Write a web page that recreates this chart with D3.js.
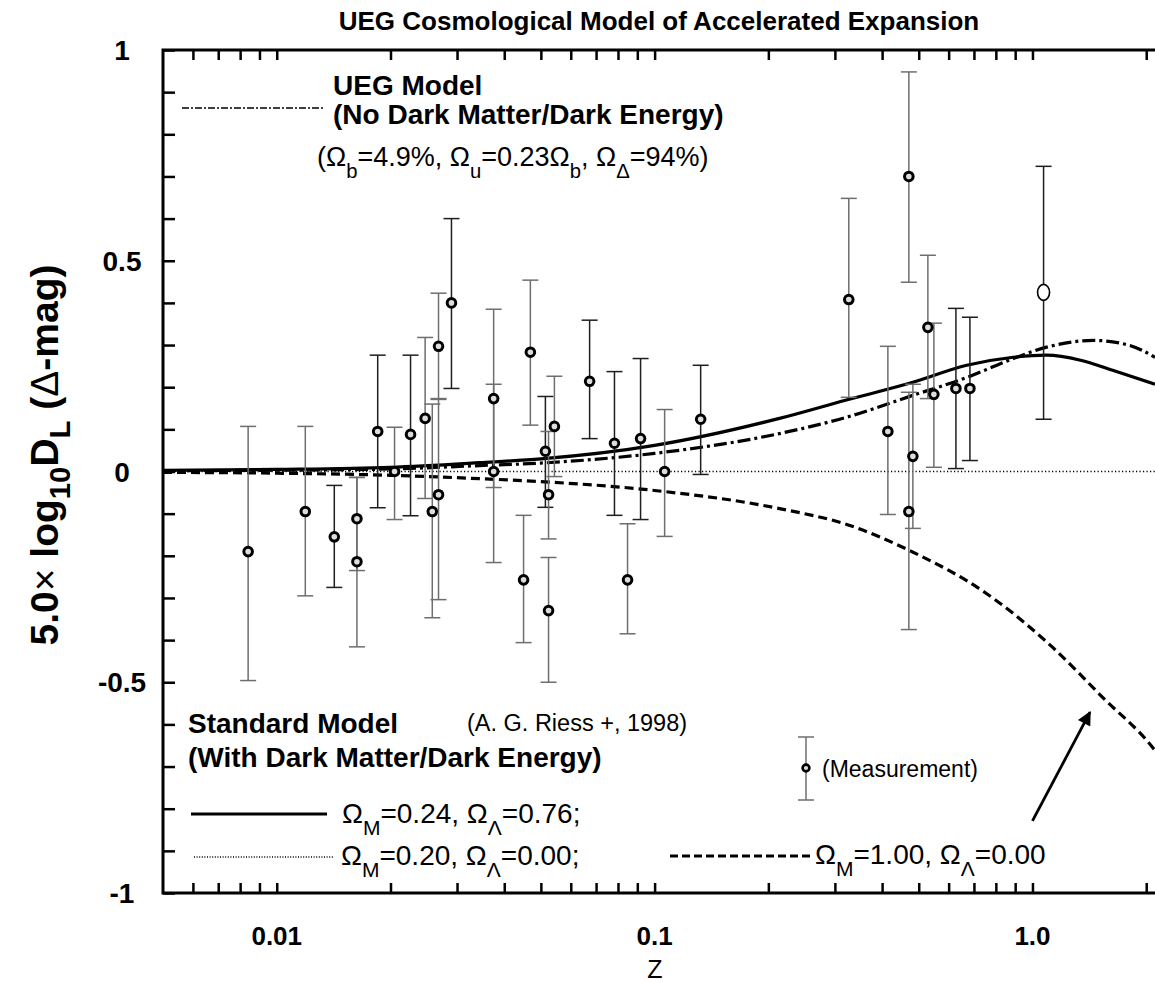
<!DOCTYPE html>
<html>
<head>
<meta charset="utf-8">
<title>UEG Cosmological Model of Accelerated Expansion</title>
<script src="https://cdn.jsdelivr.net/npm/d3@7"></script>
<style>
  body { margin: 0; background: #fff; }
  text { font-family: "Liberation Sans", Arial, sans-serif; fill: #000; }
</style>
</head>
<body>
<svg width="1155" height="983"></svg>
<script>
const redshift = [0.0084, 0.0119, 0.0142, 0.0163, 0.0163, 0.0185, 0.0205, 0.0226, 0.0247, 0.0258,
  0.0268, 0.0268, 0.029, 0.0375, 0.0375, 0.045, 0.0469, 0.0514, 0.0524, 0.0524,
  0.0543, 0.0673, 0.0783, 0.0848, 0.0918, 0.1063, 0.1324, 0.3265, 0.4143, 0.4708,
  0.4708, 0.4825, 0.5287, 0.5484, 0.6272, 0.6831];
const deltaMag = [-0.19, -0.095, -0.155, -0.112, -0.214, 0.095, 0.0, 0.088, 0.126, -0.095,
  -0.055, 0.297, 0.40, 0.173, 0.0, -0.257, 0.283, 0.048, -0.055, -0.33,
  0.107, 0.214, 0.067, -0.257, 0.078, 0.0, 0.124, 0.408, 0.095, 0.70,
  -0.095, 0.036, 0.342, 0.183, 0.197, 0.197];
const errLow = [-0.496, -0.295, -0.275, -0.235, -0.416, -0.086, -0.114, -0.105, -0.064, -0.347,
  -0.304, 0.171, 0.197, -0.038, -0.216, -0.406, 0.11, -0.085, -0.16, -0.50,
  -0.012, 0.078, -0.104, -0.385, -0.114, -0.154, -0.007, 0.176, -0.102, 0.449,
  -0.375, -0.135, 0.173, 0.01, 0.007, 0.026];
const errHigh = [0.107, 0.107, -0.033, -0.014, -0.014, 0.276, 0.105, 0.276, 0.318, 0.16,
  0.173, 0.423, 0.60, 0.385, 0.207, -0.104, 0.454, 0.178, 0.095, -0.204,
  0.226, 0.359, 0.237, -0.124, 0.268, 0.147, 0.252, 0.648, 0.297, 0.948,
  0.188, 0.207, 0.513, 0.352, 0.387, 0.366];
// two sets of bars in the picture: 1 = grey, 2 = dark
const fitSet = [1, 1, 2, 1, 1, 2, 1, 2, 1, 1,
  1, 1, 2, 1, 1, 1, 1, 2, 1, 1,
  1, 2, 2, 1, 2, 1, 2, 1, 1, 1,
  1, 1, 1, 1, 2, 2];

// the open "O" point near z = 1
const openZ = [1.07];
const openMag = [0.425];
const openLow = [0.124];
const openHigh = [0.724];

// model curves
const lcdmZ = [0.005, 0.01, 0.02, 0.0344, 0.05, 0.1, 0.214, 0.32, 0.48, 0.67, 0.89, 1.09, 1.34, 1.63, 2.11];
const lcdmMag = [0.003, 0.005, 0.01, 0.021, 0.03, 0.062, 0.126, 0.169, 0.211, 0.252, 0.271, 0.276, 0.264, 0.24, 0.207];

const uegZ = [0.005, 0.01, 0.02, 0.0344, 0.05, 0.1, 0.214, 0.32, 0.48, 0.67, 0.89, 1.09, 1.45, 1.81, 2.11];
const uegMag = [0.002, 0.003, 0.006, 0.014, 0.02, 0.043, 0.09, 0.128, 0.18, 0.223, 0.268, 0.295, 0.311, 0.299, 0.271];

const matterZ = [0.005, 0.01, 0.02, 0.0344, 0.05, 0.1, 0.214, 0.3285, 0.474, 0.757, 1.133, 1.538, 2.085, 2.11];
const matterMag = [-0.002, -0.004, -0.009, -0.017, -0.024, -0.045, -0.088, -0.128, -0.188, -0.29, -0.418, -0.537, -0.656, -0.662];

const emptyZ = [0.005, 2.11];
const emptyMag = [0, 0];

// axis ticks
const yTicks = d3.range(-10, 11).map(d => d / 10);
const yLabels = [-1, -0.5, 0, 0.5, 1];
const yLabelText = ["-1", "-0.5", "0", "0.5", "1"];
const xTicks = [0.006, 0.007, 0.008, 0.009, 0.01, 0.02, 0.03, 0.04, 0.05, 0.06, 0.07, 0.08, 0.09, 0.1,
  0.2, 0.3, 0.4, 0.5, 0.6, 0.7, 0.8, 0.9, 1.0, 2.0];
const xLabels = [0.01, 0.1, 1.0];
const xLabelText = ["0.01", "0.1", "1.0"];

const svg = d3.select("svg");
const pLeft = 163, pRight = 1155, pTop = 50, pBottom = 893;

const x = d3.scaleLog().domain([0.005, 2.11]).range([pLeft, pRight]);
const y = d3.scaleLinear().domain([-1, 1]).range([pBottom, pTop]);

const defs = svg.append("defs");
defs.append("clipPath").attr("id", "plot")
  .append("rect").attr("x", pLeft).attr("y", pTop).attr("width", pRight - pLeft).attr("height", pBottom - pTop);

// helper for text with subscripts
function rich(x0, y0, parts, size, weight, subShift) {
  const t = svg.append("text").attr("x", x0).attr("y", y0)
    .attr("font-size", size).attr("font-weight", weight || "normal");
  const k = subShift || 0.38;
  let shift = 0;
  parts.forEach(p => {
    const s = t.append("tspan").text(p.t);
    const want = p.sub ? size * k : 0;
    if (want !== shift) { s.attr("dy", want - shift); shift = want; }
    if (p.sub) s.attr("font-size", size * 0.75);
    if (p.w) s.attr("font-weight", p.w);
  });
  return t;
}

// title
svg.append("text").attr("x", 659).attr("y", 30).attr("text-anchor", "middle")
  .attr("font-size", 26).attr("font-weight", "bold")
  .text("UEG Cosmological Model of Accelerated Expansion");

// ticks
svg.append("g").attr("transform", `translate(0,${pBottom})`)
  .call(d3.axisBottom(x).tickValues(xTicks).tickSize(-10).tickFormat(""));
svg.append("g").attr("transform", `translate(0,${pTop})`)
  .call(d3.axisTop(x).tickValues(xTicks).tickSize(-10).tickFormat(""));
svg.append("g").attr("transform", `translate(${pLeft},0)`)
  .call(d3.axisLeft(y).tickValues(yTicks).tickSize(-12).tickFormat(""));
svg.selectAll(".domain").remove();
svg.selectAll(".tick line").attr("stroke", "#000").attr("stroke-width", 2.5);

// frame
svg.append("path")
  .attr("d", `M${pRight + 2},${pTop}H${pLeft}V${pBottom}H${pRight + 2}`)
  .attr("fill", "none").attr("stroke", "#000").attr("stroke-width", 3);

// tick labels
svg.selectAll(".ylab").data(yLabels).enter().append("text")
  .attr("x", 122).attr("y", d => y(d) + 10).attr("text-anchor", "middle")
  .attr("font-size", 28).attr("font-weight", "bold")
  .text((d, i) => yLabelText[i]);
svg.selectAll(".xlab").data(xLabels).enter().append("text")
  .attr("x", d => x(d)).attr("y", 945).attr("text-anchor", "middle")
  .attr("font-size", 26).attr("font-weight", "bold")
  .text((d, i) => xLabelText[i]);

svg.append("text").attr("x", 655).attr("y", 978).attr("text-anchor", "middle")
  .attr("font-size", 25).text("Z");

// y axis title
const yt = rich(0, 0, [
  { t: "5.0" }, { t: "×", w: "normal" }, { t: " log" }, { t: "10", sub: true }, { t: "D" }, { t: "L", sub: true },
  { t: " (" }, { t: "Δ", w: "normal" }, { t: "-mag)" }
], 39, "bold", 0.3);
const ytLen = yt.node().getComputedTextLength();
yt.attr("x", -ytLen / 2).attr("transform", "translate(58,455) rotate(-90)");

// curves
const plot = svg.append("g").attr("clip-path", "url(#plot)");
const line = d3.line().x(d => x(d[0])).y(d => y(d[1])).curve(d3.curveMonotoneX);

plot.append("path").datum(d3.zip(emptyZ, emptyMag)).attr("d", line)
  .attr("fill", "none").attr("stroke", "#000").attr("stroke-width", 1.6).attr("stroke-dasharray", "1.2,2.3");
plot.append("path").datum(d3.zip(matterZ, matterMag)).attr("d", line)
  .attr("fill", "none").attr("stroke", "#000").attr("stroke-width", 3.2).attr("stroke-dasharray", "9,5");
plot.append("path").datum(d3.zip(uegZ, uegMag)).attr("d", line)
  .attr("fill", "none").attr("stroke", "#000").attr("stroke-width", 3.2).attr("stroke-dasharray", "13,4,3,4");
plot.append("path").datum(d3.zip(lcdmZ, lcdmMag)).attr("d", line)
  .attr("fill", "none").attr("stroke", "#000").attr("stroke-width", 3.2);

// error bars
function errorBar(g, cx, y0, y1, colour) {
  const b = g.append("g").attr("stroke", colour);
  b.append("line").attr("x1", cx).attr("x2", cx).attr("y1", y0).attr("y2", y1);
  b.append("line").attr("x1", cx - 8).attr("x2", cx + 8).attr("y1", y0).attr("y2", y0);
  b.append("line").attr("x1", cx - 8).attr("x2", cx + 8).attr("y1", y1).attr("y2", y1);
}
const barColour = d3.scaleOrdinal().domain([1, 2]).range(["#6e6e6e", "#1e1e1e"]);
const bars = plot.append("g").attr("stroke-width", 1.5);
redshift.forEach((z, i) => errorBar(bars, x(z), y(errLow[i]), y(errHigh[i]), barColour(fitSet[i])));
openZ.forEach((z, i) => errorBar(bars, x(z), y(openLow[i]), y(openHigh[i]), barColour(2)));

plot.selectAll(".pt").data(redshift).enter().append("circle")
  .attr("cx", d => x(d)).attr("cy", (d, i) => y(deltaMag[i])).attr("r", 4.3)
  .attr("fill", "#ddd").attr("stroke", "#000").attr("stroke-width", 3);
plot.selectAll(".open").data(openZ).enter().append("ellipse")
  .attr("cx", d => x(d)).attr("cy", (d, i) => y(openMag[i])).attr("rx", 6).attr("ry", 8)
  .attr("fill", "#fff").attr("stroke", "#000").attr("stroke-width", 1.6);

// UEG legend
svg.append("line").attr("x1", 182).attr("x2", 323).attr("y1", 108).attr("y2", 108)
  .attr("stroke", "#000").attr("stroke-width", 1.5).attr("stroke-dasharray", "7,2,2,2");
svg.append("text").attr("x", 333).attr("y", 95).attr("font-size", 28).attr("font-weight", "bold").text("UEG Model");
svg.append("text").attr("x", 333).attr("y", 124).attr("font-size", 28).attr("font-weight", "bold").text("(No Dark Matter/Dark Energy)");
rich(317, 166, [
  { t: "(Ω" }, { t: "b", sub: true }, { t: "=4.9%, Ω" }, { t: "u", sub: true }, { t: "=0.23Ω" }, { t: "b", sub: true },
  { t: ", Ω" }, { t: "Δ", sub: true }, { t: "=94%)" }
], 27, "normal", 0.45);

// standard model legend
svg.append("text").attr("x", 188).attr("y", 733).attr("font-size", 28).attr("font-weight", "bold").text("Standard Model");
svg.append("text").attr("x", 188).attr("y", 767).attr("font-size", 28).attr("font-weight", "bold").text("(With Dark Matter/Dark Energy)");
svg.append("text").attr("x", 467).attr("y", 731).attr("font-size", 23.5).text("(A. G. Riess +, 1998)");

svg.append("line").attr("x1", 191).attr("x2", 327).attr("y1", 814).attr("y2", 814)
  .attr("stroke", "#000").attr("stroke-width", 3.2);
rich(342, 823, [{ t: "Ω" }, { t: "M", sub: true }, { t: "=0.24, Ω" }, { t: "Λ", sub: true }, { t: "=0.76;" }], 28, "normal", 0.42);

svg.append("line").attr("x1", 194).attr("x2", 333).attr("y1", 857).attr("y2", 857)
  .attr("stroke", "#000").attr("stroke-width", 1.5).attr("stroke-dasharray", "1,1.6");
rich(341, 865, [{ t: "Ω" }, { t: "M", sub: true }, { t: "=0.20, Ω" }, { t: "Λ", sub: true }, { t: "=0.00;" }], 28, "normal", 0.42);

svg.append("line").attr("x1", 670).attr("x2", 811).attr("y1", 856).attr("y2", 856)
  .attr("stroke", "#000").attr("stroke-width", 3).attr("stroke-dasharray", "8,4");
rich(815, 864, [{ t: "Ω" }, { t: "M", sub: true }, { t: "=1.00, Ω" }, { t: "Λ", sub: true }, { t: "=0.00" }], 28, "normal", 0.42);

// measurement legend
const mg = svg.append("g").attr("stroke-width", 1.5);
errorBar(mg, 806, 737, 800, barColour(1));
svg.append("circle").attr("cx", 806).attr("cy", 768).attr("r", 3.4)
  .attr("fill", "#ddd").attr("stroke", "#000").attr("stroke-width", 2.6);
svg.append("text").attr("x", 822).attr("y", 777).attr("font-size", 23).text("(Measurement)");

// arrow toward the matter-only curve
defs.append("marker").attr("id", "head")
  .attr("viewBox", "0 0 10 10").attr("refX", 9).attr("refY", 5)
  .attr("markerWidth", 8).attr("markerHeight", 5).attr("orient", "auto")
  .append("path").attr("d", "M0,0L10,5L0,10Z").attr("fill", "#000");
const arrowZ = [1.0, 1.42];
const arrowMag = [-0.829, -0.571];
svg.append("line")
  .attr("x1", x(arrowZ[0])).attr("y1", y(arrowMag[0]))
  .attr("x2", x(arrowZ[1])).attr("y2", y(arrowMag[1]))
  .attr("stroke", "#000").attr("stroke-width", 2.8).attr("marker-end", "url(#head)");
</script>
</body>
</html>
